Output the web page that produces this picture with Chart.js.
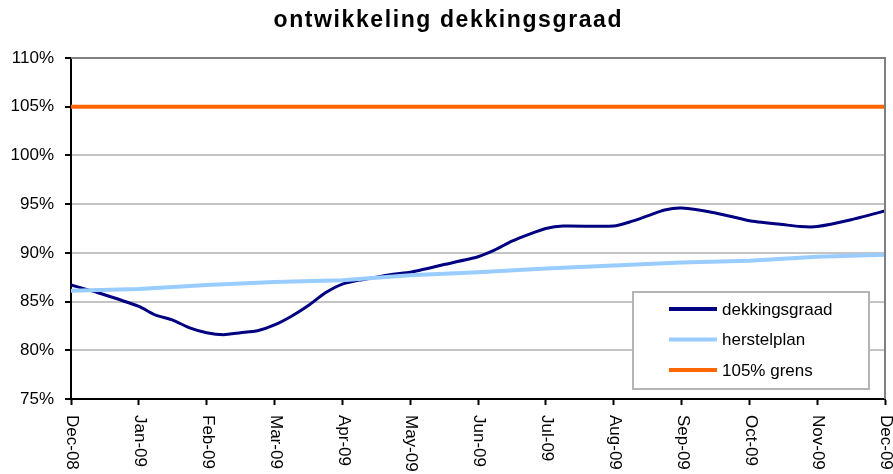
<!DOCTYPE html>
<html><head><meta charset="utf-8">
<script src="https://cdn.jsdelivr.net/npm/chart.js@4"></script>
<style>html,body{margin:0;padding:0;background:#fff}</style>
</head><body>
<canvas id="c" width="893" height="474"></canvas>
<script>
const months = ['Dec-08','Jan-09','Feb-09','Mar-09','Apr-09','May-09','Jun-09','Jul-09','Aug-09','Sep-09','Oct-09','Nov-09','Dec-09'];
const yTickValues = [75, 80, 85, 90, 95, 100, 105, 110];
const dekkingsgraadMonth = [0,0.4,1,1.25,1.5,1.75,2,2.25,2.5,2.75,3,3.25,3.5,3.75,4,4.25,4.5,4.75,5,5.5,6,6.25,6.5,6.75,7,7.25,8,8.25,8.5,8.75,9,9.5,10,10.5,10.75,11,11.5,12];
const dekkingsgraad = [86.7,85.9,84.5,83.6,83.1,82.3,81.8,81.6,81.8,82.0,82.6,83.5,84.6,85.9,86.8,87.2,87.5,87.8,88.0,88.8,89.6,90.3,91.2,91.9,92.5,92.75,92.75,93.2,93.8,94.4,94.6,94.1,93.3,92.9,92.7,92.7,93.4,94.3];
const herstelplan = [86.1,86.3,86.7,87.0,87.2,87.7,88.0,88.4,88.7,89.0,89.2,89.6,89.8];
const grens = [105,105,105,105,105,105,105,105,105,105,105,105,105];
const seriesLabels = ['dekkingsgraad','herstelplan','105% grens'];
const titleText = 'ontwikkeling dekkingsgraad';

const FONT = "'Liberation Sans', Arial, sans-serif";

const framePlugin = {
  id: 'frame',
  afterDraw(chart) {
    const {ctx, chartArea: a, scales} = chart;
    ctx.save();
    // title with slight letter spacing
    ctx.fillStyle = '#000';
    ctx.font = 'bold 23px ' + FONT;
    ctx.textAlign = 'left';
    ctx.textBaseline = 'alphabetic';
    const sp = 1.6;
    const chars = Array.from(titleText);
    const widths = chars.map(c => ctx.measureText(c).width);
    const total = widths.reduce((s, w) => s + w, 0) + sp * (chars.length - 1);
    let tx = chart.width / 2 + 1 - total / 2;
    chars.forEach((c, i) => { ctx.fillText(c, tx, 27); tx += widths[i] + sp; });
    // top and right border
    ctx.strokeStyle = '#808080';
    ctx.lineWidth = 2;
    ctx.beginPath();
    ctx.moveTo(a.left, a.top);
    ctx.lineTo(a.right, a.top);
    ctx.lineTo(a.right, a.bottom);
    ctx.stroke();
    // x labels rotated clockwise
    ctx.fillStyle = '#000';
    ctx.font = '17px ' + FONT;
    ctx.textAlign = 'left';
    ctx.textBaseline = 'middle';
    months.forEach((m, i) => {
      const x = scales.x.getPixelForValue(i);
      ctx.save();
      ctx.translate(x + 1, a.bottom + 16);
      ctx.rotate(Math.PI / 2);
      ctx.fillText(m, 0, 0);
      ctx.restore();
    });
    // legend
    const L = a.right - 252, R = a.right - 16, T = a.bottom - 107, B = a.bottom - 10;
    ctx.fillStyle = '#fff';
    ctx.fillRect(L, T, R - L, B - T);
    ctx.strokeStyle = '#b4b4b4';
    ctx.lineWidth = 2;
    ctx.strokeRect(L, T, R - L, B - T);
    chart.data.datasets.forEach((ds, i) => {
      const y = T + 17 + i * 30.5;
      ctx.strokeStyle = ds.borderColor;
      ctx.lineWidth = 4;
      ctx.beginPath();
      ctx.moveTo(L + 36, y);
      ctx.lineTo(L + 84, y);
      ctx.stroke();
      ctx.fillStyle = '#000';
      ctx.font = '17px ' + FONT;
      ctx.textAlign = 'left';
      ctx.textBaseline = 'middle';
      ctx.fillText(ds.label, L + 89, y + 1);
    });
    ctx.restore();
  }
};

new Chart(document.getElementById('c'), {
  type: 'line',
  data: {
    datasets: [
      { label: seriesLabels[0], data: dekkingsgraadMonth.map((m, i) => ({x: m, y: dekkingsgraad[i]})),
        borderColor: '#000080', borderWidth: 3, pointRadius: 0, tension: 0.2, order: 3 },
      { label: seriesLabels[1], data: months.map((m, i) => ({x: i, y: herstelplan[i]})),
        borderColor: '#99CCFF', borderWidth: 4, pointRadius: 0, tension: 0, order: 2 },
      { label: seriesLabels[2], data: months.map((m, i) => ({x: i, y: grens[i]})),
        borderColor: '#FF6600', borderWidth: 4, pointRadius: 0, tension: 0, order: 1 }
    ]
  },
  options: {
    responsive: false,
    animation: false,
    devicePixelRatio: 1,
    layout: { padding: { left: 0, right: 8, top: 58, bottom: 0 } },
    plugins: {
      legend: { display: false },
      tooltip: { enabled: false },
      title: { display: false }
    },
    scales: {
      x: {
        type: 'linear', min: 0, max: 12,
        ticks: { stepSize: 1, display: false },
        grid: { drawOnChartArea: false, drawTicks: true, tickLength: 6, tickColor: '#000', tickWidth: 2 },
        border: { color: '#000', width: 2 },
        afterFit(s) { s.height = 75; }
      },
      y: {
        min: yTickValues[0], max: yTickValues[yTickValues.length - 1],
        afterBuildTicks(s) { s.ticks = yTickValues.map(v => ({value: v})); },
        ticks: { callback: v => v + '%', color: '#000', font: { family: FONT, size: 17 }, padding: 11 },
        grid: { color: c => (c.tick && c.tick.value === 110) ? '#808080' : '#c4c4c4', lineWidth: 2,
          tickLength: 6, tickColor: '#000', tickWidth: 2 },
        border: { color: '#000', width: 2 },
        afterFit(s) { s.width = 71; }
      }
    }
  },
  plugins: [framePlugin]
});
</script>
</body></html>
